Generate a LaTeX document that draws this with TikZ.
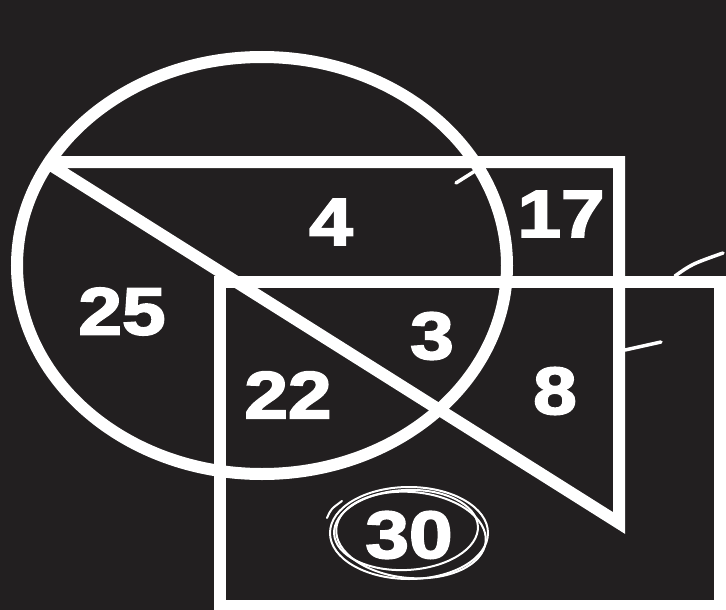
\documentclass[tikz,border=0pt]{standalone}
\usepackage{fontspec}
\setmainfont{Liberation Sans}
\font\digfont="Liberation Sans/B:embolden=2.5" at 67pt
\definecolor{bg}{HTML}{221F20}
\tikzset{
  heavy/.style={draw=white, line width=12pt, line join=miter, miter limit=3},
  tick/.style={draw=white, line width=3.5pt, line cap=round},
  scrib/.style={draw=white, line width=2pt},
  num/.style={text=white, inner sep=0pt, font=\digfont}
}
\newcommand{\wnum}[1]{\scalebox{1.17}[1]{#1}}
\begin{document}
\begin{tikzpicture}[x=1pt,y=-1pt]
\useasboundingbox (0,0) rectangle (726,610);
\clip (0,0) rectangle (726,610);
\fill[bg] (0,0) rectangle (726,610);
% ellipse
\draw[heavy] (262,265.5) ellipse [x radius=245, y radius=208.5];
% triangle-like region
\draw[heavy] (46,162) -- (619,162) -- (619,523) -- cycle;
% rectangle
\draw[heavy] (219.5,282) rectangle (720,606);
% ticks
\draw[tick] (456,183) -- (475,171);
\draw[tick] (675,276) .. controls (692,264) .. (723,253);
\draw[tick] (625,350) -- (661,342);
% numbers
\node[num] (n4) at (331,222) {\wnum{4}};
\node[num] (n17) at (561,214) {\wnum{17}};
\node[num] (n25) at (122,311.5) {\wnum{25}};
\node[num] (n22) at (288,395) {\wnum{22}};
\node[num] (n3) at (432,336) {\wnum{3}};
\node[num] (n8) at (555,391) {\wnum{8}};
\node[num] (n30) at (409,535) {\wnum{30}};
% scribbled loops round 30
\draw[scrib] (409,533) ellipse [x radius=79, y radius=46];
\draw[scrib, rotate around={-5:(411,535)}] (411,535) ellipse [x radius=75, y radius=43];
\draw[scrib, rotate around={3:(406,530)}] (406,530) ellipse [x radius=72, y radius=40];
\draw[scrib, line cap=round] (327,518) .. controls (331,509) .. (342,501);
\end{tikzpicture}
\end{document}
